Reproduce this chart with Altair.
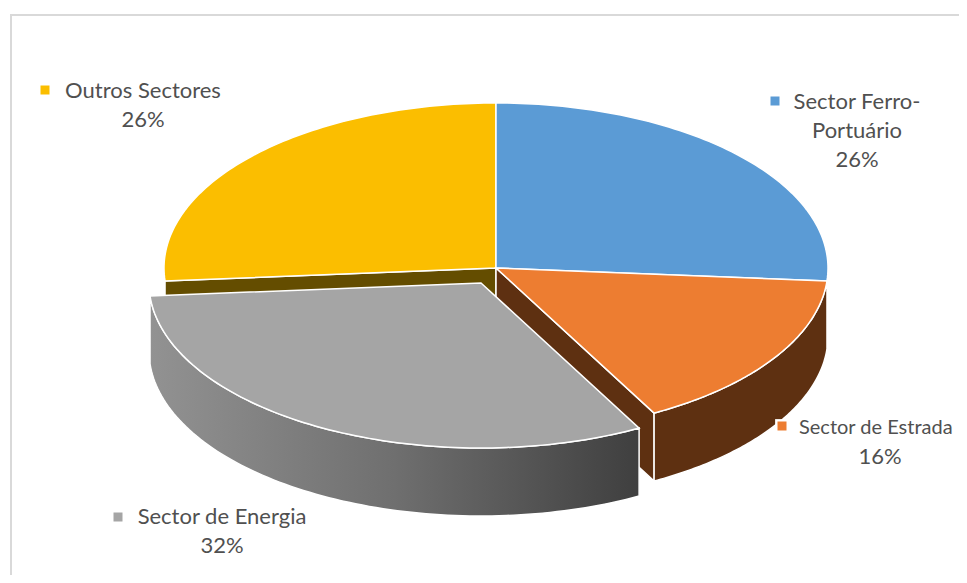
import math
import altair as alt

# Shares (labels show them rounded)
names = ["Sector Ferro-Portuário", "Sector de Estrada", "Sector de Energia", "Outros Sectores"]
shares = [26.25, 15.85, 31.65, 26.25]
labels = ["26%", "16%", "32%", "26%"]

CX, CY, RX, RY = 496, 268, 332, 165
DEPTH = 68
EXPLODE = (-15, 15)

cum = [0]
for s in shares:
    cum.append(cum[-1] + s)
ang = [c / sum(shares) * 2 * math.pi for c in cum]


def pt(a, off=(0, 0), dz=0):
    return [CX + off[0] + RX * math.sin(a), CY + off[1] - RY * math.cos(a) + dz]


def arc(a0, a1, off=(0, 0), dz=0, n=90):
    return [pt(a0 + (a1 - a0) * i / n, off, dz) for i in range(n + 1)]


def feature(ring):
    ring = list(ring) + [ring[0]]
    return {"type": "Feature", "properties": {},
            "geometry": {"type": "Polygon", "coordinates": [ring]}}


def shape(ring, fill, sw=1.5):
    return alt.Chart(alt.Data(values=[feature(ring)])).mark_geoshape(
        fill=fill, stroke="#ffffff", strokeWidth=sw
    ).project(type="identity", scale=1, translate=[-8, -8])


def top(i, off=(0, 0)):
    c = [CX + off[0], CY + off[1]]
    return [c] + arc(ang[i], ang[i + 1], off)


def outer_side(i, off=(0, 0)):
    return arc(ang[i], ang[i + 1], off) + arc(ang[i + 1], ang[i], off, DEPTH)


def wall(a, off=(0, 0)):
    c = [CX + off[0], CY + off[1]]
    return [c, pt(a, off), pt(a, off, DEPTH), [c[0], c[1] + DEPTH]]


gray_grad = alt.LinearGradient(
    gradient="linear", x1=0, x2=1, y1=0, y2=0,
    stops=[alt.GradientStop(color="#929292", offset=0),
           alt.GradientStop(color="#6f6f6f", offset=0.5),
           alt.GradientStop(color="#3f3f3f", offset=1)],
)

layers = [
    shape(wall(ang[3]), "#644d00"),
    shape(wall(ang[2]), "#5e3011"),
    shape(outer_side(1), "#5e3011"),
    shape(top(3), "#fbbe00"),
    shape(top(0), "#5b9bd5"),
    shape(top(1), "#ed7d31"),
    shape(outer_side(2, EXPLODE), gray_grad),
    shape(top(2, EXPLODE), "#a5a5a5"),
]


def txt(s, x, y, align="center", size=22):
    return alt.Chart(alt.Data(values=[{"t": s}])).mark_text(
        font="Lato", fontSize=size, color="#505050", align=align, baseline="middle"
    ).encode(text="t:N", x=alt.value(x - 8), y=alt.value(y - 8))


def sq(color, x, y, size=81):
    return alt.Chart(alt.Data(values=[{"c": color}])).mark_square(
        color=color, opacity=1, size=size
    ).encode(x=alt.value(x - 8), y=alt.value(y - 8))


frame = [
    alt.Chart(alt.Data(values=[{"k": 0}])).mark_rule(color="#d9d9d9", strokeWidth=2).encode(
        x=alt.value(11 - 8), y=alt.value(14 - 8), y2=alt.value(575 - 8)),
    alt.Chart(alt.Data(values=[{"k": 1}])).mark_rule(color="#d9d9d9", strokeWidth=2).encode(
        x=alt.value(10 - 8), x2=alt.value(959 - 8), y=alt.value(15 - 8)),
]

annotations = [
    sq("#fbbe00", 45, 90), txt(names[3], 143, 91), txt(labels[3], 143, 120),
    sq("#5b9bd5", 775, 101), txt("Sector Ferro-", 857, 102), txt("Portuário", 857, 131), txt(labels[0], 857, 160),
    sq("#ffffff", 782, 426, 190), sq("#ed7d31", 782, 426),
    txt(names[1], 799, 428, "left", 20), txt(labels[1], 880, 457),
    sq("#a5a5a5", 118, 517), txt(names[2], 222, 517), txt(labels[2], 222, 546),
]

chart = alt.layer(*frame, *layers, *annotations).properties(
    width=951, height=567, padding=0, background="#ffffff",
    autosize=alt.AutoSizeParams(type="none"),
).configure_view(stroke=None)

chart.save("out.html", embed_options={"renderer": "svg", "actions": False})
